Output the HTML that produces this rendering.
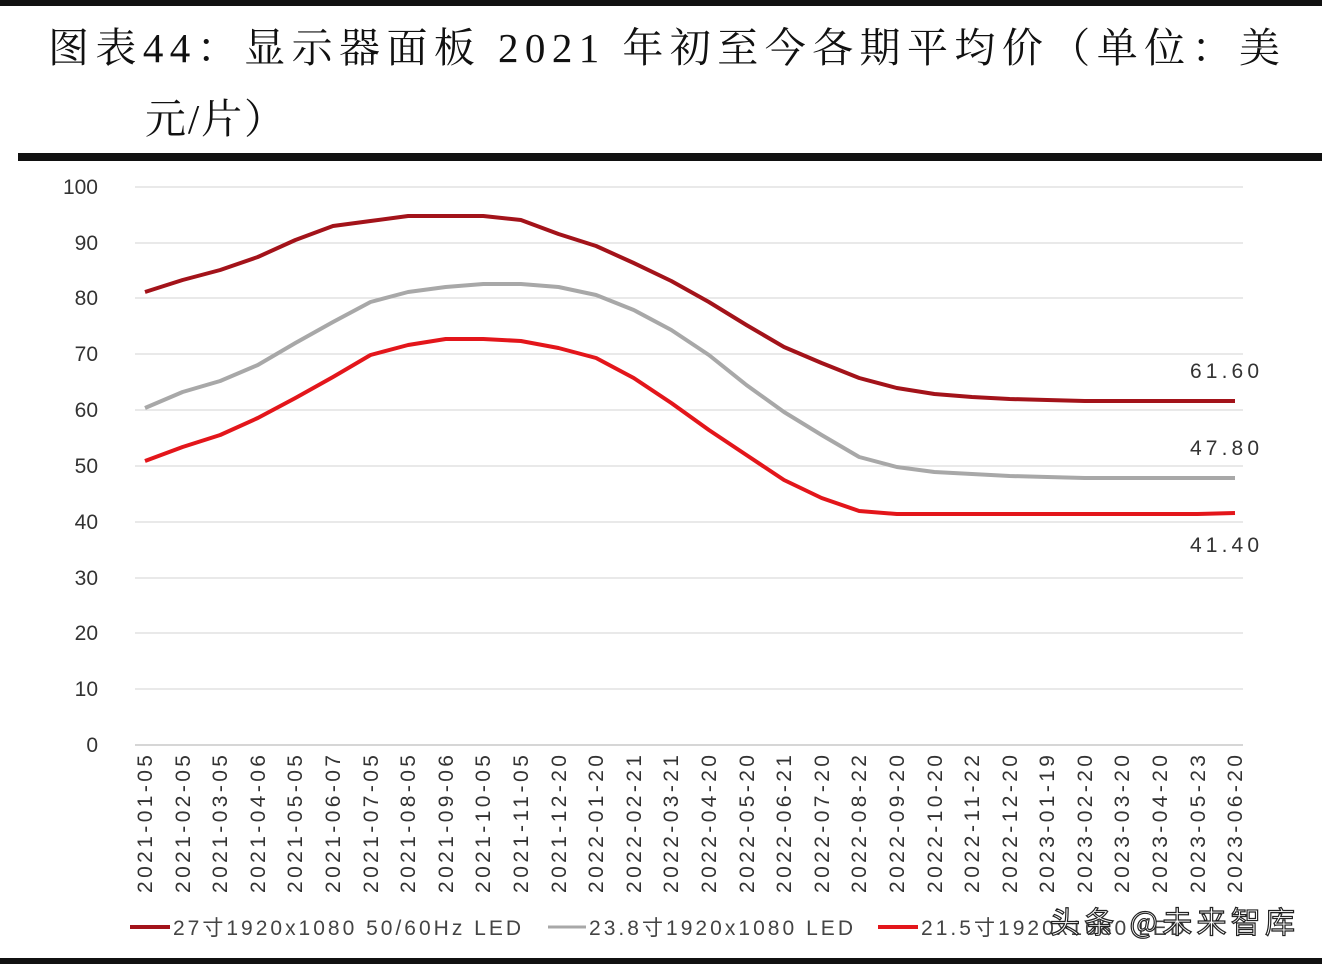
<!DOCTYPE html>
<html><head><meta charset="utf-8"><style>
body{margin:0;background:#fff;}
svg{display:block;}
</style></head><body>
<svg width="1322" height="964" xmlns="http://www.w3.org/2000/svg">
<rect x="0" y="0" width="1322" height="964" fill="#fff"/>
<rect x="0" y="0" width="1322" height="6" fill="#111"/>
<text x="48" y="62" font-family="Liberation Serif, Noto Serif CJK SC, serif" font-size="41" fill="#111" textLength="1232" lengthAdjust="spacing">图表44：显示器面板 2021 年初至今各期平均价（单位：美</text>
<text x="145" y="133" font-family="Liberation Serif, Noto Serif CJK SC, serif" font-size="41" fill="#111" textLength="140" lengthAdjust="spacing">元/片）</text>
<rect x="18" y="153" width="1304" height="8" fill="#111"/>
<g stroke="#dcdcdc" stroke-width="1.2">
<line x1="135" y1="187" x2="1243" y2="187"/><line x1="135" y1="243" x2="1243" y2="243"/>
<line x1="135" y1="298" x2="1243" y2="298"/><line x1="135" y1="354" x2="1243" y2="354"/>
<line x1="135" y1="410" x2="1243" y2="410"/><line x1="135" y1="466" x2="1243" y2="466"/>
<line x1="135" y1="522" x2="1243" y2="522"/><line x1="135" y1="578" x2="1243" y2="578"/>
<line x1="135" y1="633" x2="1243" y2="633"/><line x1="135" y1="689" x2="1243" y2="689"/>
</g>
<line x1="135" y1="745" x2="1243" y2="745" stroke="#c8c8c8" stroke-width="1.5"/>
<g font-family="Liberation Sans, sans-serif" font-size="21" fill="#333" text-anchor="end">
<text x="98" y="194">100</text><text x="98" y="250">90</text><text x="98" y="305">80</text>
<text x="98" y="361">70</text><text x="98" y="417">60</text><text x="98" y="473">50</text>
<text x="98" y="529">40</text><text x="98" y="585">30</text><text x="98" y="640">20</text>
<text x="98" y="696">10</text><text x="98" y="752">0</text>
</g>
<g font-family="Liberation Sans, sans-serif" font-size="21" fill="#333" text-anchor="end">
<text transform="translate(152,755) rotate(-90)" textLength="138" lengthAdjust="spacing">2021-01-05</text>
<text transform="translate(190,755) rotate(-90)" textLength="138" lengthAdjust="spacing">2021-02-05</text>
<text transform="translate(227,755) rotate(-90)" textLength="138" lengthAdjust="spacing">2021-03-05</text>
<text transform="translate(265,755) rotate(-90)" textLength="138" lengthAdjust="spacing">2021-04-06</text>
<text transform="translate(302,755) rotate(-90)" textLength="138" lengthAdjust="spacing">2021-05-05</text>
<text transform="translate(340,755) rotate(-90)" textLength="138" lengthAdjust="spacing">2021-06-07</text>
<text transform="translate(378,755) rotate(-90)" textLength="138" lengthAdjust="spacing">2021-07-05</text>
<text transform="translate(415,755) rotate(-90)" textLength="138" lengthAdjust="spacing">2021-08-05</text>
<text transform="translate(453,755) rotate(-90)" textLength="138" lengthAdjust="spacing">2021-09-06</text>
<text transform="translate(490,755) rotate(-90)" textLength="138" lengthAdjust="spacing">2021-10-05</text>
<text transform="translate(528,755) rotate(-90)" textLength="138" lengthAdjust="spacing">2021-11-05</text>
<text transform="translate(566,755) rotate(-90)" textLength="138" lengthAdjust="spacing">2021-12-20</text>
<text transform="translate(603,755) rotate(-90)" textLength="138" lengthAdjust="spacing">2022-01-20</text>
<text transform="translate(641,755) rotate(-90)" textLength="138" lengthAdjust="spacing">2022-02-21</text>
<text transform="translate(678,755) rotate(-90)" textLength="138" lengthAdjust="spacing">2022-03-21</text>
<text transform="translate(716,755) rotate(-90)" textLength="138" lengthAdjust="spacing">2022-04-20</text>
<text transform="translate(754,755) rotate(-90)" textLength="138" lengthAdjust="spacing">2022-05-20</text>
<text transform="translate(791,755) rotate(-90)" textLength="138" lengthAdjust="spacing">2022-06-21</text>
<text transform="translate(829,755) rotate(-90)" textLength="138" lengthAdjust="spacing">2022-07-20</text>
<text transform="translate(866,755) rotate(-90)" textLength="138" lengthAdjust="spacing">2022-08-22</text>
<text transform="translate(904,755) rotate(-90)" textLength="138" lengthAdjust="spacing">2022-09-20</text>
<text transform="translate(942,755) rotate(-90)" textLength="138" lengthAdjust="spacing">2022-10-20</text>
<text transform="translate(979,755) rotate(-90)" textLength="138" lengthAdjust="spacing">2022-11-22</text>
<text transform="translate(1017,755) rotate(-90)" textLength="138" lengthAdjust="spacing">2022-12-20</text>
<text transform="translate(1054,755) rotate(-90)" textLength="138" lengthAdjust="spacing">2023-01-19</text>
<text transform="translate(1092,755) rotate(-90)" textLength="138" lengthAdjust="spacing">2023-02-20</text>
<text transform="translate(1129,755) rotate(-90)" textLength="138" lengthAdjust="spacing">2023-03-20</text>
<text transform="translate(1167,755) rotate(-90)" textLength="138" lengthAdjust="spacing">2023-04-20</text>
<text transform="translate(1205,755) rotate(-90)" textLength="138" lengthAdjust="spacing">2023-05-23</text>
<text transform="translate(1242,755) rotate(-90)" textLength="138" lengthAdjust="spacing">2023-06-20</text>
</g>
<g fill="none" stroke-width="4" stroke-linejoin="round">
<polyline stroke="#a8a8a8" points="145,408 182.6,392 220.2,381 257.8,365 295.4,343 333,322 370.5,302 408.1,292 445.7,287 483.3,284 520.9,284 558.5,287 596.1,295 633.7,310 671.3,330 708.9,355 746.4,385 784,412 821.6,435 859.2,457 896.8,467 934.4,472 972,474 1009.6,476 1047.2,477 1084.8,478 1122.3,478 1159.9,478 1197.5,478 1235,478"/>
<polyline stroke="#e3161b" points="145,461 182.6,447 220.2,435 257.8,418 295.4,398 333,377 370.5,355 408.1,345 445.7,339 483.3,339 520.9,341 558.5,348 596.1,358 633.7,378 671.3,403 708.9,430 746.4,455 784,480 821.6,498 859.2,511 896.8,514 934.4,514 972,514 1009.6,514 1047.2,514 1084.8,514 1122.3,514 1159.9,514 1197.5,514 1235,513"/>
<polyline stroke="#a3131a" points="145,292 182.6,280 220.2,270 257.8,257 295.4,240 333,226 370.5,221 408.1,216 445.7,216 483.3,216 520.9,220 558.5,234 596.1,246 633.7,263 671.3,281 708.9,302 746.4,325 784,347 821.6,363 859.2,378 896.8,388 934.4,394 972,397 1009.6,399 1047.2,400 1084.8,401 1122.3,401 1159.9,401 1197.5,401 1235,401"/>
</g>
<g font-family="Liberation Sans, sans-serif" font-size="21" fill="#333">
<text x="1190" y="378" textLength="69" lengthAdjust="spacing">61.60</text>
<text x="1190" y="455" textLength="69" lengthAdjust="spacing">47.80</text>
<text x="1190" y="552" textLength="69" lengthAdjust="spacing">41.40</text>
</g>
<line x1="130" y1="927" x2="170" y2="927" stroke="#a3131a" stroke-width="4"/>
<line x1="548" y1="927" x2="586" y2="927" stroke="#a8a8a8" stroke-width="3"/>
<line x1="878" y1="927" x2="918" y2="927" stroke="#e3161b" stroke-width="4"/>
<g font-family="Liberation Sans, Noto Sans CJK SC, sans-serif" font-size="21" fill="#444">
<text x="173" y="935" textLength="348" lengthAdjust="spacing">27寸1920x1080 50/60Hz LED</text>
<text x="589" y="935" textLength="264" lengthAdjust="spacing">23.8寸1920x1080 LED</text>
<text x="921" y="935" textLength="264" lengthAdjust="spacing">21.5寸1920x1080 LED</text>
</g>
<text x="1050" y="933" font-family="Noto Sans CJK SC, sans-serif" font-size="30" fill="#fff" stroke="#222" stroke-width="1.2" textLength="245" lengthAdjust="spacing">头条 @未来智库</text>
<rect x="0" y="958" width="1322" height="6" fill="#111"/>
</svg>
</body></html>
